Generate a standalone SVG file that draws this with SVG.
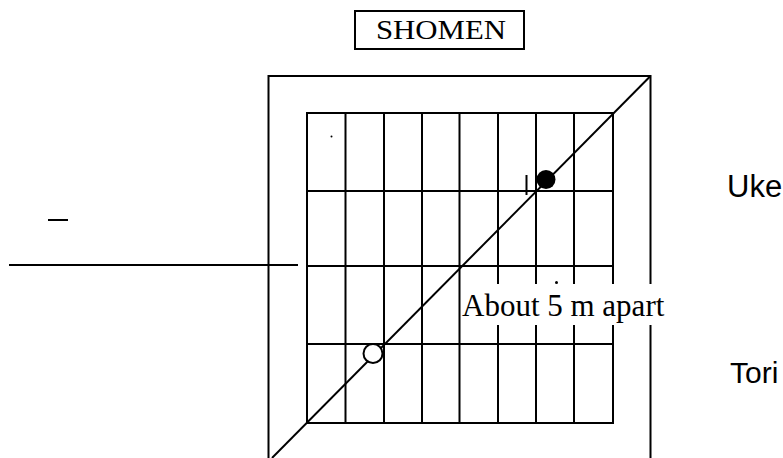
<svg xmlns="http://www.w3.org/2000/svg" width="783" height="458" viewBox="0 0 783 458">
<style>
.ln{stroke:#000;stroke-width:2;fill:none}
.serif{font-family:"Liberation Serif","Times New Roman",serif;fill:#000}
.sans{font-family:"Liberation Sans",Arial,sans-serif;fill:#000}
</style>
<rect width="783" height="458" fill="#fff"/>
<g id="mat">
<path class="ln" d="M268.5 458V76H650.5V458"/>
<rect class="ln" x="307" y="113" width="306" height="310"/>
<path class="ln" d="M345.5 113V423M384 113V423M422 113V423M459.5 113V423M498 113V423M536 113V423M574 113V423"/>
<path class="ln" d="M307 191H613M307 266H613M307 344H613"/>
</g>
<g id="side-lines">
<path class="ln" d="M9 265H298"/>
<path class="ln" d="M48 220H68"/>
</g>
<g id="connectors">
<path class="ln" d="M650.5 76L272 458"/>
</g>
<g id="label-distance">
<rect x="461" y="284" width="212" height="41" fill="#fff"/>
<text class="serif" x="462" y="316" font-size="31">About 5 m apart</text>
</g>
<g id="shomen">
<rect class="ln" x="355" y="11" width="169" height="38" fill="#fff"/>
<text class="serif" x="376" y="39" font-size="28" textLength="130" lengthAdjust="spacingAndGlyphs">SHOMEN</text>
</g>
<g id="uke">
<circle cx="546" cy="179.5" r="9.5" fill="#000"/>
<path class="ln" d="M526.5 175V195"/>
<text class="sans" x="727" y="197" font-size="31">Uke</text>
</g>
<g id="tori">
<circle cx="373" cy="353.5" r="9.5" fill="#fff" stroke="#000" stroke-width="2"/>
<text class="sans" x="730" y="383" font-size="30">Tori</text>
</g>
<g id="specks">
<circle cx="556.5" cy="282.5" r="1.5" fill="#000"/>
<circle cx="331.5" cy="136.5" r="1" fill="#000"/>
</g>
</svg>
